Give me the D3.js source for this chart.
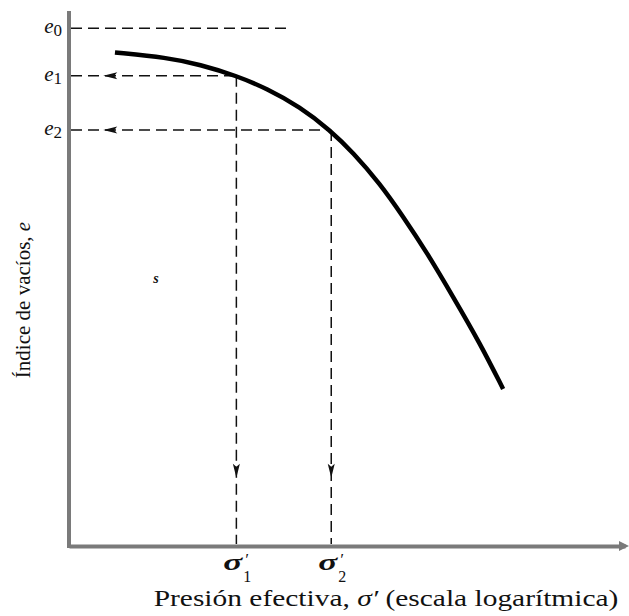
<!DOCTYPE html>
<html>
<head>
<meta charset="utf-8">
<script src="https://cdn.jsdelivr.net/npm/d3@7"></script>
<style>
  body { margin: 0; background: #fff; }
  svg text { font-family: "Liberation Serif", "DejaVu Serif", serif; fill: #111; }
</style>
</head>
<body>
<div id="chart"></div>
<script>
// Curva de compresibilidad (presión efectiva en escala log vs índice de vacíos)
const sigma = [1.77, 3.38, 5.09, 8.0, 11.7, 17.6, 25.6, 34.1, 47.6, 63.4, 85.4, 118, 165, 220];
const voidRatio = [0.972, 0.966, 0.958, 0.945, 0.930, 0.909, 0.882, 0.856, 0.820, 0.782, 0.740, 0.689, 0.635, 0.582];

// puntos de referencia
const e0 = 1.0, e0End = 15.2;
const sigma1 = 8.0, sigma2 = 26;
const e1 = 0.945, e2 = 0.882;
const arrowSigma = 1.53;   // punta de flecha sobre las horizontales
const arrowE = 0.479;      // punta de flecha sobre las verticales

const width = 629, height = 616;

const svg = d3.select("#chart").append("svg")
    .attr("width", width)
    .attr("height", height);

const x = d3.scaleLog().domain([1, 1000]).range([69, 625]);
const y = d3.scaleLinear().domain([0.4, 1.02]).range([546, 11]);

const axisColor = "#7a7a7a";

// Eje X (sin marcas)
const gx = svg.append("g")
    .attr("transform", `translate(0,${y(0.4)})`)
    .call(d3.axisBottom(x).tickValues([]).tickSizeOuter(0));
gx.select(".domain").attr("stroke", axisColor).attr("stroke-width", 4);

// punta de flecha del eje X
const xEnd = x.range()[1];
svg.append("path")
    .attr("d", `M${xEnd - 6},${y(0.4) - 5} L${xEnd + 4},${y(0.4)} L${xEnd - 6},${y(0.4) + 5} Z`)
    .attr("fill", axisColor);

// Eje Y (sin marcas)
const gy = svg.append("g")
    .attr("transform", `translate(${x(1)},0)`)
    .call(d3.axisLeft(y).tickValues([]).tickSizeOuter(0));
gy.select(".domain").attr("stroke", axisColor).attr("stroke-width", 4)
    .attr("d", `M0,${y.range()[1]}V${y(0.4) + 2}`);

// Líneas discontinuas
const dashed = svg.append("g")
    .attr("stroke", "#111")
    .attr("stroke-width", 1.5)
    .attr("stroke-dasharray", "11,6")
    .attr("fill", "none");

dashed.append("line")
    .attr("x1", x(1) + 2).attr("x2", x(e0End))
    .attr("y1", y(e0)).attr("y2", y(e0));

[[sigma1, e1], [sigma2, e2]].forEach(([s, e]) => {
    dashed.append("line")
        .attr("x1", x(1) + 2).attr("x2", x(s))
        .attr("y1", y(e)).attr("y2", y(e));
    dashed.append("line")
        .attr("x1", x(s)).attr("x2", x(s))
        .attr("y1", y(e)).attr("y2", y(0.4) - 2);

    // flecha hacia el eje Y
    const ax = x(arrowSigma), ay = y(e);
    svg.append("path")
        .attr("d", `M${ax},${ay} L${ax + 14},${ay - 3.5} L${ax + 11},${ay} L${ax + 14},${ay + 3.5} Z`)
        .attr("fill", "#111");

    // flecha hacia el eje X
    const vx = x(s), vy = y(arrowE);
    svg.append("path")
        .attr("d", `M${vx},${vy} L${vx - 3.5},${vy - 14} L${vx},${vy - 11} L${vx + 3.5},${vy - 14} Z`)
        .attr("fill", "#111");
});

// Curva (suavizada)
const curveData = sigma.map((s, i) => ({s: s, e: voidRatio[i]}));
svg.append("path")
    .datum(curveData)
    .attr("fill", "none")
    .attr("stroke", "#000")
    .attr("stroke-width", 4.5)
    .attr("d", d3.line()
        .x(d => x(d.s))
        .y(d => y(d.e))
        .curve(d3.curveBasis));

// Etiquetas e0, e1, e2
[["0", e0], ["1", e1], ["2", e2]].forEach(([sub, e]) => {
    const t = svg.append("text")
        .attr("x", 62)
        .attr("y", y(e) + 5)
        .attr("text-anchor", "end")
        .style("font-size", "21px");
    t.append("tspan").style("font-style", "italic").text("e");
    t.append("tspan").attr("dy", 3).style("font-size", "17px").text(sub);
});

// Etiquetas sigma'1, sigma'2
[["1", sigma1], ["2", sigma2]].forEach(([sub, s]) => {
    const cx = x(s);
    svg.append("text")
        .attr("x", cx - 13).attr("y", 570)
        .attr("textLength", 19)
        .attr("lengthAdjust", "spacingAndGlyphs")
        .style("font-size", "24px")
        .style("font-style", "italic")
        .style("font-weight", "bold")
        .text("σ");
    svg.append("text")
        .attr("x", cx + 8).attr("y", 565)
        .style("font-size", "17px")
        .style("font-style", "italic")
        .text("′");
    svg.append("text")
        .attr("x", cx + 7).attr("y", 582)
        .style("font-size", "16px")
        .text(sub);
});

// Título eje X
const xl = svg.append("text")
    .attr("transform", "translate(386,606) scale(1.28,1)")
    .attr("text-anchor", "middle")
    .style("font-size", "23px");
xl.append("tspan").text("Presión efectiva, ");
xl.append("tspan").style("font-style", "italic").text("σ′");
xl.append("tspan").text(" (escala logarítmica)");

// Título eje Y
const yl = svg.append("text")
    .attr("transform", "translate(30,300) rotate(-90)")
    .attr("text-anchor", "middle")
    .style("font-size", "21px");
yl.append("tspan").text("Índice de vacíos, ");
yl.append("tspan").style("font-style", "italic").text("e");

// marca suelta "s"
svg.append("text")
    .attr("x", 156).attr("y", 283)
    .attr("text-anchor", "middle")
    .style("font-size", "14px")
    .style("font-style", "italic")
    .style("font-weight", "bold")
    .text("s");
</script>
</body>
</html>
